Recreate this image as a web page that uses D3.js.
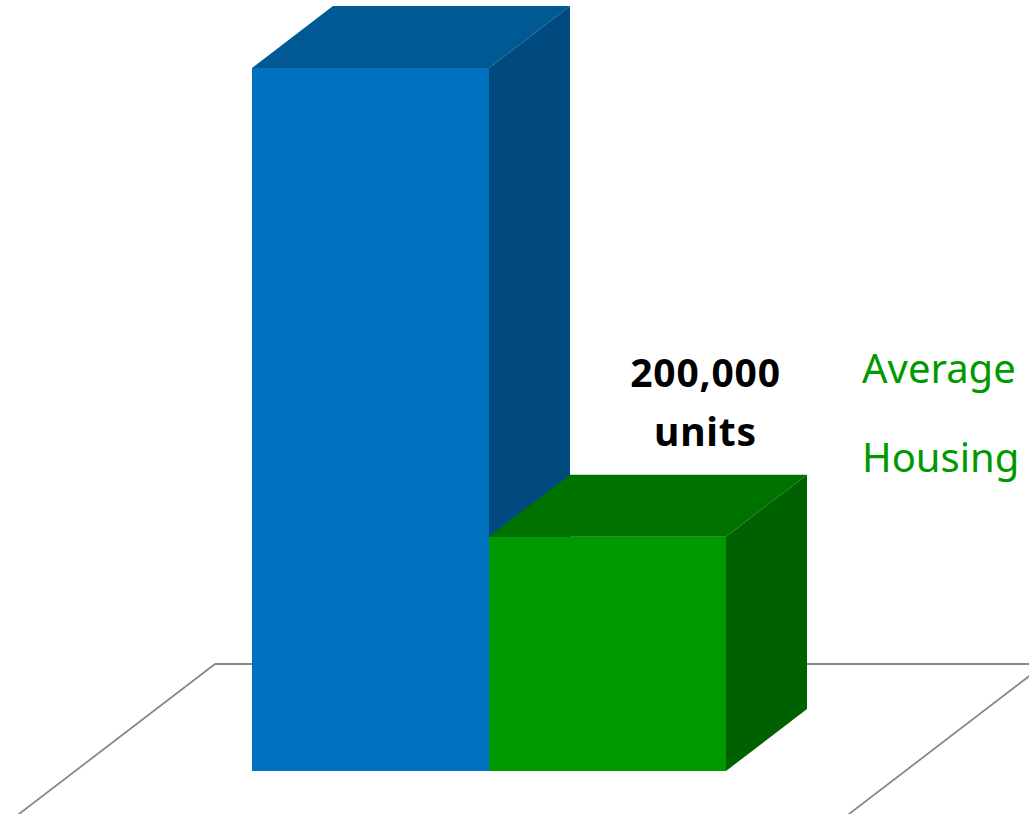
<!DOCTYPE html>
<html><head><meta charset="utf-8">
<script src="https://cdn.jsdelivr.net/npm/d3@7"></script>
<style>html,body{margin:0;padding:0;background:#fff;overflow:hidden}</style>
</head><body>
<svg id="chart" width="1029" height="814"></svg>
<script>
const categories = ["Market Housing", "Average Housing"];
const values = [600000, 200000];
const valueLabels = ["", "200,000 units"];
const legendLines = ["Average", "Housing"];

const W = 1029, H = 814;
const svg = d3.select("#chart");
const x = d3.scaleBand().domain(categories).range([252, 726]).padding(0);
const y = d3.scaleLinear().domain([0, 600000]).range([771, 68]);
const DX = 81, DY = -62;

const palette = [
  {front:"#0070c0", top:"#005993", side:"#004a7f"},
  {front:"#009900", top:"#007200", side:"#006100"}
];

// floor
const floorY = 664, floorL = 215, floorR = 1045, slope = 62/81;
const floor = svg.append("g").attr("stroke","#888").attr("stroke-width",1.8).attr("fill","none");
floor.append("line").attr("x1",floorL).attr("y1",floorY).attr("x2",floorR).attr("y2",floorY);
floor.append("line").attr("x1",floorL).attr("y1",floorY).attr("x2",floorL-300).attr("y2",floorY+300*slope);
floor.append("line").attr("x1",floorR).attr("y1",floorY).attr("x2",floorR-300).attr("y2",floorY+300*slope);

const bars = svg.append("g");
categories.forEach((c,i)=>{
  const x0 = x(c), x1 = x(c)+x.bandwidth(), yt = y(values[i]), yb = y(0);
  const g = bars.append("g");
  g.append("rect").attr("x",x0).attr("y",yt).attr("width",x1-x0).attr("height",yb-yt).attr("fill",palette[i].front);
  g.append("path").attr("d",`M${x0},${yt}L${x0+DX},${yt+DY}L${x1+DX},${yt+DY}L${x1},${yt}Z`).attr("fill",palette[i].top);
  g.append("path").attr("d",`M${x1},${yt}L${x1+DX},${yt+DY}L${x1+DX},${yb+DY}L${x1},${yb}Z`).attr("fill",palette[i].side);
});

// value label
categories.forEach((c,i)=>{
  if(!valueLabels[i]) return;
  const parts = valueLabels[i].split(" ");
  const cx = x(c) + x.bandwidth()/2 + 98;
  const t = svg.append("text").attr("text-anchor","middle").attr("font-family","'Noto Sans', sans-serif")
    .attr("font-weight","bold").attr("font-size",39).attr("letter-spacing",0.8).attr("fill","#000");
  t.append("tspan").attr("x",cx).attr("y",y(values[i])-150).text(parts[0]);
  t.append("tspan").attr("x",cx).attr("y",y(values[i])-91).text(parts[1]);
});

// legend-like text
const lg = svg.append("text").attr("font-family","'Noto Sans', sans-serif").attr("font-size",40).attr("fill","#009900");
legendLines.forEach((s,i)=> lg.append("tspan").attr("x",862).attr("y",383+i*89).text(s));
</script>
</body></html>
